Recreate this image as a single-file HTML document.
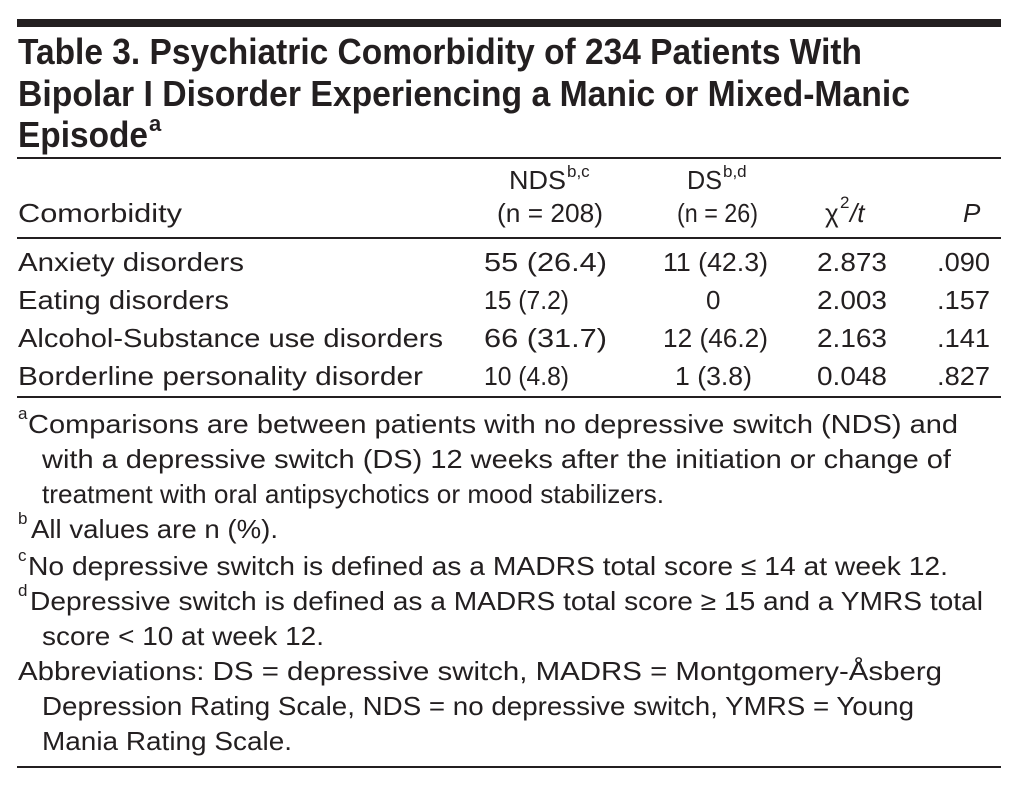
<!DOCTYPE html>
<html><head><meta charset="utf-8"><style>
html,body{margin:0;padding:0;background:#fff;}
svg{display:block;}
text{font-family:"Liberation Sans",sans-serif;fill:#231f20;}
.t{font-weight:bold;font-size:36px;}
.b{font-size:26px;}
.s{font-size:17px;}
</style></head><body>
<svg width="1031" height="787" viewBox="0 0 1031 787">
<rect x="17" y="19" width="984" height="8" fill="#231f20"/>
<g>
<text class="t" x="18" y="64" textLength="844" lengthAdjust="spacingAndGlyphs">Table 3. Psychiatric Comorbidity of 234 Patients With</text>
<text class="t" x="18" y="106" textLength="892" lengthAdjust="spacingAndGlyphs">Bipolar I Disorder Experiencing a Manic or Mixed-Manic</text>
<text class="t" x="18" y="147" textLength="130" lengthAdjust="spacingAndGlyphs">Episode</text>
<text x="149" y="131" style="font-size:22px;font-weight:bold">a</text>
</g>
<rect x="17" y="157" width="984" height="2" fill="#231f20"/>
<g>
<text class="b" x="18" y="222" textLength="164" lengthAdjust="spacingAndGlyphs">Comorbidity</text>
<text class="b" x="509" y="189" textLength="57" lengthAdjust="spacingAndGlyphs">NDS</text>
<text class="s" x="567" y="177">b,c</text>
<text class="b" x="497" y="222" textLength="106" lengthAdjust="spacingAndGlyphs">(n = 208)</text>
<text class="b" x="687" y="189" textLength="35" lengthAdjust="spacingAndGlyphs">DS</text>
<text class="s" x="723" y="177">b,d</text>
<text class="b" x="677" y="222" textLength="81" lengthAdjust="spacingAndGlyphs">(n = 26)</text>
<text class="b" x="825" y="222">χ</text>
<text class="s" x="840" y="208">2</text>
<text class="b" x="850" y="222" font-style="italic">/t</text>
<text class="b" x="963" y="222" font-style="italic">P</text>
</g>
<rect x="17" y="237" width="984" height="2" fill="#231f20"/>
<g>
<text class="b" x="18" y="271" textLength="226" lengthAdjust="spacingAndGlyphs">Anxiety disorders</text>
<text class="b" x="484" y="271" textLength="123" lengthAdjust="spacingAndGlyphs">55 (26.4)</text>
<text class="b" x="663" y="271" textLength="105" lengthAdjust="spacingAndGlyphs">11 (42.3)</text>
<text class="b" x="817" y="271" textLength="70" lengthAdjust="spacingAndGlyphs">2.873</text>
<text class="b" x="937" y="271" textLength="53" lengthAdjust="spacingAndGlyphs">.090</text>
</g>
<g>
<text class="b" x="18" y="309" textLength="211" lengthAdjust="spacingAndGlyphs">Eating disorders</text>
<text class="b" x="484" y="309" textLength="85" lengthAdjust="spacingAndGlyphs">15 (7.2)</text>
<text class="b" x="706" y="309">0</text>
<text class="b" x="817" y="309" textLength="70" lengthAdjust="spacingAndGlyphs">2.003</text>
<text class="b" x="937" y="309" textLength="53" lengthAdjust="spacingAndGlyphs">.157</text>
</g>
<g>
<text class="b" x="18" y="347" textLength="425" lengthAdjust="spacingAndGlyphs">Alcohol-Substance use disorders</text>
<text class="b" x="484" y="347" textLength="123" lengthAdjust="spacingAndGlyphs">66 (31.7)</text>
<text class="b" x="663" y="347" textLength="105" lengthAdjust="spacingAndGlyphs">12 (46.2)</text>
<text class="b" x="817" y="347" textLength="70" lengthAdjust="spacingAndGlyphs">2.163</text>
<text class="b" x="937" y="347" textLength="53" lengthAdjust="spacingAndGlyphs">.141</text>
</g>
<g>
<text class="b" x="18" y="385" textLength="405" lengthAdjust="spacingAndGlyphs">Borderline personality disorder</text>
<text class="b" x="484" y="385" textLength="85" lengthAdjust="spacingAndGlyphs">10 (4.8)</text>
<text class="b" x="675" y="385" textLength="77" lengthAdjust="spacingAndGlyphs">1 (3.8)</text>
<text class="b" x="817" y="385" textLength="70" lengthAdjust="spacingAndGlyphs">0.048</text>
<text class="b" x="937" y="385" textLength="53" lengthAdjust="spacingAndGlyphs">.827</text>
</g>
<rect x="17" y="396" width="984" height="2" fill="#231f20"/>
<g>
<text class="s" x="18" y="419">a</text>
<text class="b" x="28" y="433" textLength="930" lengthAdjust="spacingAndGlyphs">Comparisons are between patients with no depressive switch (NDS) and</text>
<text class="b" x="42" y="468" textLength="909" lengthAdjust="spacingAndGlyphs">with a depressive switch (DS) 12 weeks after the initiation or change of</text>
<text class="b" x="42" y="503" textLength="622" lengthAdjust="spacingAndGlyphs">treatment with oral antipsychotics or mood stabilizers.</text>
<text class="s" x="18" y="524">b</text>
<text class="b" x="31" y="538" textLength="247" lengthAdjust="spacingAndGlyphs">All values are n (%).</text>
<text class="s" x="18" y="561">c</text>
<text class="b" x="28" y="575" textLength="920" lengthAdjust="spacingAndGlyphs">No depressive switch is defined as a MADRS total score ≤ 14 at week 12.</text>
<text class="s" x="18" y="596">d</text>
<text class="b" x="30" y="610" textLength="953" lengthAdjust="spacingAndGlyphs">Depressive switch is defined as a MADRS total score ≥ 15 and a YMRS total</text>
<text class="b" x="42" y="645" textLength="282" lengthAdjust="spacingAndGlyphs">score &lt; 10 at week 12.</text>
<text class="b" x="18" y="680" textLength="924" lengthAdjust="spacingAndGlyphs">Abbreviations: DS = depressive switch, MADRS = Montgomery-Åsberg</text>
<text class="b" x="42" y="715" textLength="872" lengthAdjust="spacingAndGlyphs">Depression Rating Scale, NDS = no depressive switch, YMRS = Young</text>
<text class="b" x="42" y="750" textLength="250" lengthAdjust="spacingAndGlyphs">Mania Rating Scale.</text>
</g>
<rect x="17" y="766" width="984" height="2" fill="#231f20"/>
</svg>
</body></html>
